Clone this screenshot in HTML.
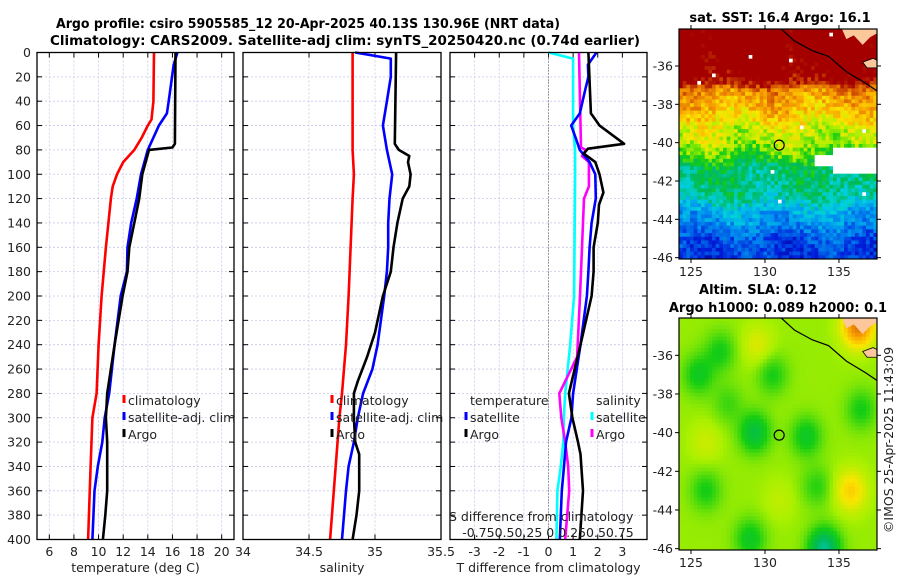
<!DOCTYPE html>
<html><head><meta charset="utf-8"><style>
body{margin:0;background:#fff}
svg{display:block;font-family:"DejaVu Sans","Liberation Sans",sans-serif}
.t{font-size:12.5px;fill:#222}
.h{font-size:13px;font-weight:bold;fill:#000}
</style></head><body>
<svg id="c" width="900" height="580" viewBox="0 0 900 580" xmlns="http://www.w3.org/2000/svg">
<text class="h" x="56" y="28" textLength="504" lengthAdjust="spacingAndGlyphs">Argo profile: csiro 5905585_12 20-Apr-2025 40.13S 130.96E (NRT data)</text>
<text class="h" x="50" y="45" textLength="590" lengthAdjust="spacingAndGlyphs">Climatology: CARS2009. Satellite-adj clim: synTS_20250420.nc (0.74d earlier)</text>
<text class="h" x="780" y="22" text-anchor="middle">sat. SST: 16.4 Argo: 16.1</text>
<text class="h" x="758" y="294" text-anchor="middle">Altim. SLA: 0.12</text>
<text class="h" x="778" y="312" text-anchor="middle">Argo h1000: 0.089 h2000: 0.1</text>
<text class="t" transform="translate(893,440) rotate(-90)" text-anchor="middle">©IMOS 25-Apr-2025 11:43:09</text>
<g id="g"></g>
</svg>
<script>
// ---------- data ----------
const depthTicks=[0,20,40,60,80,100,120,140,160,180,200,220,240,260,280,300,320,340,360,380,400];
const tTicks=[6,8,10,12,14,16,18,20];
const sTicks=[34,34.5,35,35.5];
const sTickLabels=["34","34.5","35","35.5"];
const dTicks=[-3,-2,-1,0,1,2,3];
const climTDepth=[0,40,55,60,70,80,90,100,110,120,160,200,240,280,300,340,400];
const climT=[14.5,14.45,14.3,14.0,13.5,12.9,12.0,11.5,11.15,11.0,10.6,10.25,10.0,9.84,9.5,9.35,9.15];
const satTDepth=[0,10,40,50,60,80,100,120,140,160,180,200,240,280,300,320,340,360,400];
const satT=[16.4,16.1,15.7,15.55,14.9,14.0,13.45,13.1,12.65,12.35,12.3,11.8,11.3,10.86,10.5,10.3,9.94,9.67,9.5];
const argoTDepth=[0,75,78,80,100,120,140,160,180,200,240,280,300,320,360,380,400];
const argoT=[16.25,16.2,16.0,14.1,13.55,13.3,12.9,12.5,12.35,11.95,11.3,10.7,10.6,10.7,10.7,10.55,10.35];
const climSDepth=[0,20,60,80,100,120,200,240,280,300,400];
const climS=[34.83,34.83,34.83,34.83,34.84,34.83,34.8,34.78,34.75,34.73,34.66];
const satSDepth=[0,5,20,40,60,80,100,120,140,160,180,200,240,260,280,300,320,340,360,400];
const satS=[34.85,35.12,35.12,35.09,35.06,35.09,35.13,35.11,35.1,35.1,35.09,35.07,35.02,34.98,34.91,34.87,34.84,34.8,34.78,34.75];
const argoSDepth=[0,75,80,85,90,100,110,120,140,160,180,200,230,250,270,280,300,320,330,360,380,400];
const argoS=[35.16,35.15,35.18,35.26,35.25,35.27,35.26,35.21,35.17,35.14,35.12,35.06,35.0,34.94,34.87,34.84,34.84,34.85,34.88,34.88,34.86,34.83];
const dTArgoDepth=[0,50,55,60,75,79,83,90,100,115,125,140,160,180,200,240,280,300,320,330,360,400];
const dTArgo=[1.62,1.72,1.9,2.07,3.07,1.6,1.43,1.9,2.07,2.23,2.05,2.0,1.83,1.83,1.75,1.3,0.83,0.97,1.2,1.3,1.4,1.27];
const dTSatDepth=[0,10,20,30,50,60,70,80,90,100,120,140,160,180,200,240,280,300,320,340,360,400];
const dTSat=[1.95,1.6,1.62,1.5,1.27,0.92,1.1,1.27,1.67,1.9,1.92,1.75,1.67,1.62,1.56,1.3,1.0,0.93,0.71,0.63,0.54,0.46];
const dSSatDepth=[0,5,20,60,80,100,200,240,280,300,320,340,360,400];
const dSSat=[0.0,0.25,0.25,0.25,0.27,0.27,0.26,0.22,0.17,0.155,0.15,0.125,0.09,0.08];
const dSArgoDepth=[0,40,78,80,85,90,110,120,160,200,250,280,300,320,340,360,400];
const dSArgo=[0.31,0.32,0.33,0.38,0.34,0.41,0.41,0.36,0.34,0.32,0.29,0.11,0.13,0.17,0.2,0.21,0.17];
const sstLat=[-34,-35,-36,-36.8,-37.3,-38,-38.7,-39.3,-40,-40.7,-41.2,-42,-42.8,-43.5,-44.3,-45,-46];
const sstVal=[20.5,20.5,20.3,19.8,18.4,18.0,17.6,17.0,16.8,16.3,15.4,15.2,15.0,14.1,13.6,12.9,12.6];
const slaBlobLon=[125.5,127,129.3,130.5,132.8,129,134,126,136.5,133.5,135.8,136.3,129.5,126,131,127.5];
const slaBlobLat=[-37,-35.8,-40,-37,-40.2,-45.5,-46,-43,-38.8,-42.8,-43,-34.5,-35.5,-40.5,-43.5,-38.5];
const slaBlobAmp=[-0.14,-0.12,-0.2,-0.12,-0.15,-0.15,-0.32,-0.12,-0.12,-0.1,0.2,0.4,0.1,0.07,0.05,-0.08];

// ---------- helpers ----------
const NS="http://www.w3.org/2000/svg",G=document.getElementById('g');
function mk(tag,at,parent){const e=document.createElementNS(NS,tag);for(const k in at)e.setAttribute(k,at[k]);(parent||G).appendChild(e);return e;}
const TOP=52.5,BOT=539.5;
const yD=d=>TOP+d*(BOT-TOP)/400;
const P1={l:37,r:234,min:5,max:21},P2={l:243,r:441,min:34,max:35.5},P3={l:450,r:647,min:-4,max:4};
const xf=P=>v=>P.l+(v-P.min)*(P.r-P.l)/(P.max-P.min);
const x1=xf(P1),x2=xf(P2),x3=xf(P3),xs=v=>x3(v*4);

function panel(P,ticks,labels,xfn,title,name){
  const g=mk('g',{});
  
  
  ticks.forEach(v=>{const x=xfn(v);mk('line',{x1:x,x2:x,y1:TOP,y2:BOT,stroke:'#c6c8ea','stroke-width':0.8,'stroke-dasharray':'2,2'},g);});
  depthTicks.forEach(d=>{const y=yD(d);mk('line',{x1:P.l,x2:P.r,y1:y,y2:y,stroke:'#c6c8ea','stroke-width':0.8,'stroke-dasharray':'2,2'},g);
    mk('line',{x1:P.l,x2:P.l+5,y1:y,y2:y,stroke:'#000'},g);mk('line',{x1:P.r-5,x2:P.r,y1:y,y2:y,stroke:'#000'},g);});
  ticks.forEach((v,i)=>{const x=xfn(v);mk('line',{x1:x,x2:x,y1:BOT-5,y2:BOT,stroke:'#000'},g);mk('line',{x1:x,x2:x,y1:TOP,y2:TOP+5,stroke:'#000'},g);
    const t=mk('text',{x:x,y:556,'text-anchor':'middle',class:'t'},g);t.textContent=labels[i];
    
    });
  const tt=mk('text',{x:(P.l+P.r)/2,y:572,'text-anchor':'middle',class:'t'},g);tt.textContent=title;
  
  
  return g;
}
function frame(P,g){mk('rect',{x:P.l,y:TOP,width:P.r-P.l,height:BOT-TOP,fill:'none',stroke:'#000','stroke-width':1.3},g);}
function line(dep,val,xfn,col,name,g){
  const pts=dep.map((d,i)=>xfn(val[i]).toFixed(1)+','+yD(d).toFixed(1)).join(' ');
  const e=mk('polyline',{points:pts,fill:'none',stroke:col,'stroke-width':2.6,'stroke-linejoin':'round'},g);
  
  
}
function leg(x,y,col,txt,g){mk('line',{x1:x,x2:x,y1:y-10,y2:y-2,stroke:col,'stroke-width':3},g);
  const t=mk('text',{x:x+4,y:y,class:'t'},g);t.textContent=txt;
  
  }

depthTicks.forEach(d=>{const t=mk('text',{x:31,y:yD(d)+4.5,'text-anchor':'end',class:'t'});t.textContent=d;
  
  });

const g1=panel(P1,tTicks,tTicks.map(String),x1,'temperature (deg C)','temperature-panel');
line(climTDepth,climT,x1,'#f00','climatology-temperature-line',g1);
line(satTDepth,satT,x1,'#00f','satellite-temperature-line',g1);
line(argoTDepth,argoT,x1,'#000','argo-temperature-line',g1);
frame(P1,g1);
leg(124,405,'#f00','climatology',g1);leg(124,422,'#00f','satellite-adj. clim',g1);leg(124,439,'#000','Argo',g1);

const g2=panel(P2,sTicks,sTickLabels,x2,'salinity','salinity-panel');
line(climSDepth,climS,x2,'#f00','climatology-salinity-line',g2);
line(satSDepth,satS,x2,'#00f','satellite-salinity-line',g2);
line(argoSDepth,argoS,x2,'#000','argo-salinity-line',g2);
frame(P2,g2);
leg(332,405,'#f00','climatology',g2);leg(332,422,'#00f','satellite-adj. clim',g2);leg(332,439,'#000','Argo',g2);

const g3=panel(P3,dTicks,dTicks.map(String),x3,'T difference from climatology','difference-panel');
mk('line',{x1:x3(0),x2:x3(0),y1:TOP,y2:BOT,stroke:'#555','stroke-width':1,'stroke-dasharray':'1,2'},g3);
line(dSSatDepth,dSSat,xs,'#0ff','satellite-salinity-diff-line',g3);
line(dSArgoDepth,dSArgo,xs,'#f0f','argo-salinity-diff-line',g3);
line(dTSatDepth,dTSat,x3,'#00f','satellite-temperature-diff-line',g3);
line(dTArgoDepth,dTArgo,x3,'#000','argo-temperature-diff-line',g3);
frame(P3,g3);
{const t=mk('text',{x:470,y:405,class:'t'},g3);t.textContent='temperature';}
{const t=mk('text',{x:596,y:405,class:'t'},g3);t.textContent='salinity';}
leg(466,422,'#00f','satellite',g3);leg(466,439,'#000','Argo',g3);
leg(592,422,'#0ff','satellite',g3);leg(592,439,'#f0f','Argo',g3);
{const t=mk('text',{x:449,y:521,class:'t'},g3);t.textContent='S difference from climatology';
 
 }
{const t=mk('text',{x:548,y:537,class:'t','text-anchor':'middle'},g3);t.textContent='-0.750.50.25 0 0.250.50.75';
 
 }

// ---------- maps ----------
const M={l:679,r:877,lon0:124.19,lon1:137.57,lat0:-34.07,lat1:-46.07};
function jet(t){t=Math.max(0,Math.min(1,t));
  const st=[[0,[0,0,140]],[0.12,[0,30,220]],[0.28,[0,150,240]],[0.38,[0,210,220]],[0.48,[0,185,90]],[0.56,[20,205,20]],[0.64,[170,240,0]],[0.72,[250,230,0]],[0.8,[250,170,0]],[0.88,[225,110,0]],[1,[165,0,0]]];
  for(let i=1;i<st.length;i++)if(t<=st[i][0]){const a=st[i-1],b=st[i],f=(t-a[0])/(b[0]-a[0]);return 'rgb('+a[1].map((c,k)=>Math.round(c+(b[1][k]-c)*f)).join(',')+')';}
  return 'rgb(165,0,0)';}
function hash(i,j){let h=(i*374761393+j*668265263)>>>0;h=((h^(h>>>13))*1274126177)>>>0;return ((h^(h>>>16))%1000)/1000;}
function interp(xa,ya,x){for(let i=1;i<xa.length;i++){if(x>=xa[i]){const f=(x-xa[i-1])/(xa[i]-xa[i-1]);return ya[i-1]+(ya[i]-ya[i-1])*f;}}return ya[ya.length-1];}
function mapAxes(top,bot,name,g){
  const yL=lat=>top+(lat-M.lat0)*(bot-top)/(M.lat1-M.lat0);
  const xL=lon=>M.l+(lon-M.lon0)*(M.r-M.l)/(M.lon1-M.lon0);
  [-36,-38,-40,-42,-44,-46].forEach(la=>{const y=yL(la);mk('line',{x1:M.l-4,x2:M.l,y1:y,y2:y,stroke:'#000'},g);mk('line',{x1:M.r,x2:M.r+4,y1:y,y2:y,stroke:'#000'},g);
    const t=mk('text',{x:M.l-6,y:y+4.5,'text-anchor':'end',class:'t'},g);t.textContent=la;});
  [125,130,135].forEach(lo=>{const x=xL(lo);mk('line',{x1:x,x2:x,y1:bot,y2:bot+4,stroke:'#000'},g);mk('line',{x1:x,x2:x,y1:top-4,y2:top,stroke:'#000'},g);
    const t=mk('text',{x:x,y:bot+17,'text-anchor':'middle',class:'t'},g);t.textContent=lo;});
  mk('path',{d:`M${xL(135.2)},${top} L${xL(135.5)},${yL(-34.6)} L${xL(136)},${yL(-34.4)} L${xL(136.6)},${yL(-34.9)} L${xL(137.1)},${yL(-34.5)} L${M.r},${yL(-34.3)} L${M.r},${top} Z`,fill:'#fbc79b'},g);
  mk('path',{d:`M${xL(136.6)},${yL(-35.8)} L${xL(137.3)},${yL(-35.6)} L${M.r},${yL(-35.7)} L${M.r},${yL(-36.1)} L${xL(136.9)},${yL(-36.1)} Z`,fill:'#fbc79b',stroke:'#000','stroke-width':0.8},g);
  mk('polyline',{points:`${xL(131.1)},${top} ${xL(132)},${yL(-34.7)} ${xL(133.2)},${yL(-35.2)} ${xL(134.3)},${yL(-35.5)} ${xL(135.5)},${yL(-36.3)} ${xL(136.8)},${yL(-36.9)} ${M.r},${yL(-37.3)}`,fill:'none',stroke:'#000','stroke-width':1.2},g);
  const c=mk('circle',{cx:xL(130.96),cy:yL(-40.13),r:5,fill:'none',stroke:'#000','stroke-width':1.2},g);
  
  
  mk('rect',{x:M.l,y:top,width:M.r-M.l,height:bot-top,fill:'none',stroke:'#000','stroke-width':1.2},g);
}
const NX=54,NY=62;
function drawMap(top,bot,valFn,colFn,name){
  const g=mk('g',{});
  
  
  const cw=(M.r-M.l)/NX,ch=(bot-top)/NY;
  for(let j=0;j<NY;j++)for(let i=0;i<NX;i++){
    const lon=M.lon0+(i+0.5)*(M.lon1-M.lon0)/NX,lat=M.lat0+(j+0.5)*(M.lat1-M.lat0)/NY;
    const col=colFn(valFn(lon,lat,i,j),lon,lat,i,j);if(!col)continue;
    mk('rect',{x:(M.l+i*cw).toFixed(2),y:(top+j*ch).toFixed(2),width:(cw+0.4).toFixed(2),height:(ch+0.4).toFixed(2),fill:col},g);
  }
  mapAxes(top,bot,name,g);
}
drawMap(29,259,(lon,lat,i,j)=>interp(sstLat,sstVal,lat)+(hash(i,j)-0.5)*0.6+0.3*Math.sin(lon*1.1+lat*0.6),
  (v,lon,lat,i,j)=>{
    if(lon>134.6&&lat<-40.2&&lat>-41.6)return '#fff';
    if(lon>133.3&&lat<-40.7&&lat>-41.3)return '#fff';
    if(hash(i+7,j+3)>0.994)return '#fff';
    return jet((v-11)/8.5);},'sst-map');
drawMap(318,550,(lon,lat)=>{let s=0.1;for(let k=0;k<slaBlobLon.length;k++){const dx=lon-slaBlobLon[k],dy=lat-slaBlobLat[k];s+=slaBlobAmp[k]*Math.exp(-(dx*dx+dy*dy)/1.1);}return s;},
  v=>jet(0.63+(v-0.1)*0.6),'sla-map');
</script>
</body></html>
